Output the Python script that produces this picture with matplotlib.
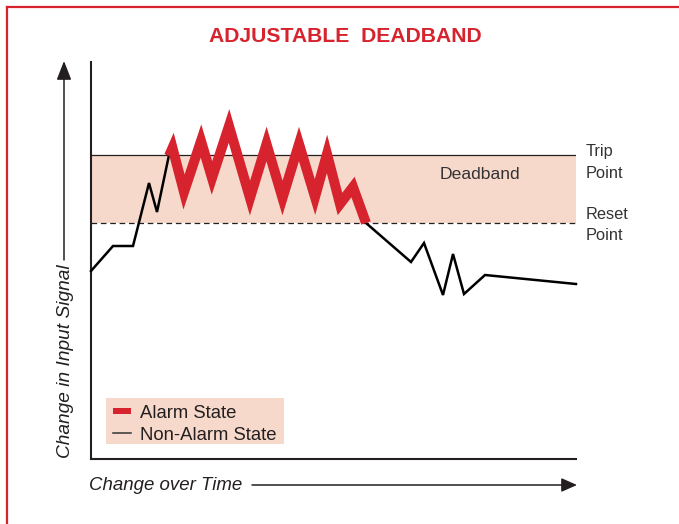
import matplotlib
matplotlib.use("Agg")
import matplotlib.pyplot as plt
from matplotlib.patches import Rectangle
from matplotlib.lines import Line2D

plt.rcParams['font.family'] = ['Liberation Sans', 'DejaVu Sans']

# ---- data (time units along x, signal units along y) ----
pre_x = [0, 22, 42, 58, 66, 78]
pre_y = [188, 213, 213, 276, 247, 304]

alarm_x = [78, 81.5, 93, 110, 121, 138, 159, 175.5, 191.5, 208, 224, 236, 249, 262, 275]
alarm_y = [303, 311, 267, 318, 281, 333, 261, 315, 261, 315, 262, 305, 255, 272, 236]

post_x = [275, 320, 333, 352, 362, 373, 394, 485]
post_y = [236, 197, 216, 164, 205, 165, 184, 175]

trip_point = 304
reset_point = 236
time_max = 485
signal_max = 397

title = "ADJUSTABLE  DEADBAND"
x_label = "Change over Time"
y_label = "Change in Input Signal"
band_label = "Deadband"
trip_label = ["Trip", "Point"]
reset_label = ["Reset", "Point"]
legend_labels = ["Alarm State", "Non-Alarm State"]

RED = '#d6232d'
PINK = '#f7d9cc'
DARK = '#231f20'
TXT = '#333333'

W, H = 679, 524
fig = plt.figure(figsize=(W / 100, H / 100), dpi=100)

# main axes placed on the plot box
ax = fig.add_axes([91 / W, (H - 459) / H, 485 / W, 397 / H])
ax.set_xlim(0, time_max)
ax.set_ylim(0, signal_max)
ax.set_xticks([])
ax.set_yticks([])
for s in ['top', 'right']:
    ax.spines[s].set_visible(False)
for s in ['left', 'bottom']:
    ax.spines[s].set_color(DARK)
    ax.spines[s].set_linewidth(1.5)
ax.patch.set_alpha(0)

ax.fill_between([0, time_max], reset_point, trip_point, color=PINK, lw=0, zorder=1)
ax.plot([0, time_max], [trip_point, trip_point], color=DARK, lw=0.9, zorder=2)
ax.plot([0, time_max], [reset_point, reset_point], color=DARK, lw=0.9,
        dashes=(4.5, 3), zorder=2)

ax.plot(pre_x, pre_y, color='black', lw=1.8, solid_joinstyle='miter', zorder=3,
        clip_on=False)
ax.plot(post_x, post_y, color='black', lw=1.8, solid_joinstyle='miter', zorder=3,
        clip_on=False)
ax.plot(alarm_x, alarm_y, color=RED, lw=7.2, solid_joinstyle='miter',
        solid_capstyle='butt', zorder=4)

# overlay in figure pixels for annotations
ov = fig.add_axes([0, 0, 1, 1])
ov.set_xlim(0, W)
ov.set_ylim(H, 0)
ov.axis('off')
ov.patch.set_alpha(0)

# red frame
ov.add_line(Line2D([6.5, W], [7, 7], color=RED, lw=1.6))
ov.add_line(Line2D([6.5, 6.5], [7, H], color=RED, lw=1.6))

ov.text(345, 41.7, title, ha='center', va='baseline', color=RED,
        fontsize=15.2, fontweight='bold')

ov.text(440, 179, band_label, ha='left', va='baseline', color=TXT, fontsize=12.6)
ov.text(586, 156, trip_label[0], ha='left', va='baseline', color=TXT, fontsize=11.8)
ov.text(586, 177.5, trip_label[1], ha='left', va='baseline', color=TXT, fontsize=11.8)
ov.text(586, 219, reset_label[0], ha='left', va='baseline', color=TXT, fontsize=11.8)
ov.text(586, 240.5, reset_label[1], ha='left', va='baseline', color=TXT, fontsize=11.8)

# legend
ov.add_patch(Rectangle((106, 398), 178, 46, color=PINK, lw=0))
ov.add_patch(Rectangle((113, 408), 18, 6, color=RED, lw=0))
ov.add_line(Line2D([113, 131], [433, 433], color=TXT, lw=1.1))
ov.text(140, 418, legend_labels[0], ha='left', va='baseline', color=DARK, fontsize=13.3)
ov.text(140, 440, legend_labels[1], ha='left', va='baseline', color=DARK, fontsize=13.3)

# axis labels with arrows
ov.text(89, 490.5, x_label, ha='left', va='baseline', color=DARK, fontsize=13.4,
        style='italic')
ov.annotate('', xy=(577, 485), xytext=(252, 485),
            arrowprops=dict(arrowstyle='-|>,head_length=0.95,head_width=0.42',
                            color=DARK, lw=1.1, shrinkA=0, shrinkB=0,
                            mutation_scale=10))

ov.text(65, 361, y_label, ha='center', va='center', rotation=90, color=DARK,
        fontsize=13.8, style='italic')
ov.annotate('', xy=(64, 61), xytext=(64, 260),
            arrowprops=dict(arrowstyle='-|>,head_length=1.15,head_width=0.45',
                            color=DARK, lw=1.1, shrinkA=0, shrinkB=0,
                            mutation_scale=10))

fig.savefig('out.png', dpi=100)
